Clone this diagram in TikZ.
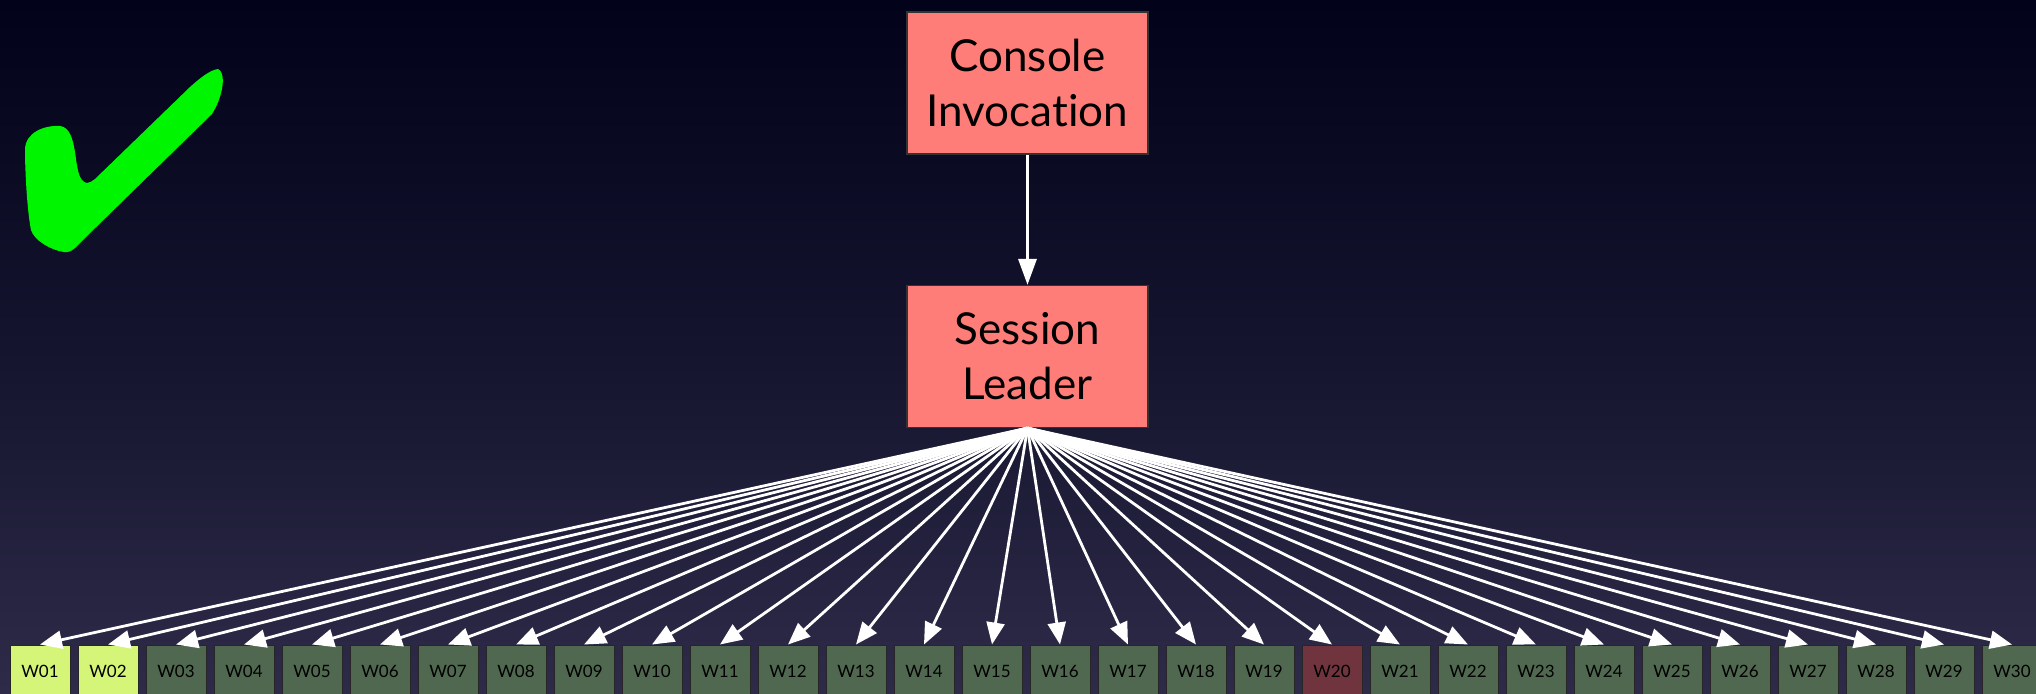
\documentclass[tikz,border=0pt]{standalone}
\usepackage{fontspec}
\setmainfont{Lato}[Ligatures=NoCommon]
\usetikzlibrary{arrows.meta}
\definecolor{bgtop}{RGB}{2,2,26}
\definecolor{bgmid}{RGB}{20,20,46}
\definecolor{bgbot}{RGB}{46,43,72}
\definecolor{pinkbox}{RGB}{255,125,120}
\definecolor{lightw}{RGB}{212,245,120}
\definecolor{darkw}{RGB}{80,104,80}
\definecolor{redw}{RGB}{112,52,62}
\definecolor{checkgreen}{RGB}{0,245,0}
\tikzset{
  bigbox/.style={draw=black!80, line width=0.6pt, fill=pinkbox, minimum width=120.5pt, minimum height=71pt, inner sep=0pt, align=center, font=\fontsize{22}{27.5}\selectfont, text=black},
  wbox/.style={draw=black!85, line width=0.5pt, minimum width=30pt, minimum height=30pt, inner sep=0pt, font=\fontsize{8.5}{10}\selectfont, text=black},
  conn/.style={white, line width=1.6pt, -{Triangle[length=13pt,width=9pt]}},
  fan/.style={white, line width=1.4pt, -{Triangle[length=11pt,width=9pt]}}
}
\begin{document}
\begin{tikzpicture}[x=0.5pt,y=0.5pt]
\useasboundingbox (0,0) rectangle (2036,-693);
\clip (0,0) rectangle (2036,-693);
\shade[top color=bgtop, bottom color=bgbot, middle color=bgmid] (0,0) rectangle (2036,-693);
% check mark
\fill[checkgreen] (218,-69) .. controls (226,-72) and (224,-95) .. (212,-114) -- (86,-237)
  .. controls (76,-247) and (72,-253) .. (64,-252) .. controls (50,-250) and (34,-240) .. (31,-230)
  .. controls (27,-210) and (25,-170) .. (25,-150) .. controls (25,-132) and (45,-125) .. (60,-126)
  .. controls (70,-127) and (73,-140) .. (75,-152) .. controls (77,-165) and (78,-182) .. (87,-183)
  .. controls (90,-183) and (92,-181) .. (95,-179) -- (190,-87)
  .. controls (200,-78) and (210,-70) .. (218,-69) -- cycle;
% top boxes
\node[bigbox] (ci) at (1027.5,-83) {Console\\Invocation};
\node[bigbox] (sl) at (1027.5,-356.5) {Session\\Leader};
\draw[conn] (ci.south) -- (sl.north);
% workers
\foreach \i in {1,...,30}{
  \pgfmathtruncatemacro{\xx}{40+68*(\i-1)}
  \ifnum\i<3 \def\wc{lightw}\else\ifnum\i=20 \def\wc{redw}\else\def\wc{darkw}\fi\fi
  \ifnum\i<10 \def\lab{W0\i}\else\def\lab{W\i}\fi
  \node[wbox, fill=\wc] (w\i) at (\xx,-675) {\raisebox{3.5pt}{\lab}};
  \draw[fan] (sl.south) -- (w\i.north);
}
\end{tikzpicture}
\end{document}
